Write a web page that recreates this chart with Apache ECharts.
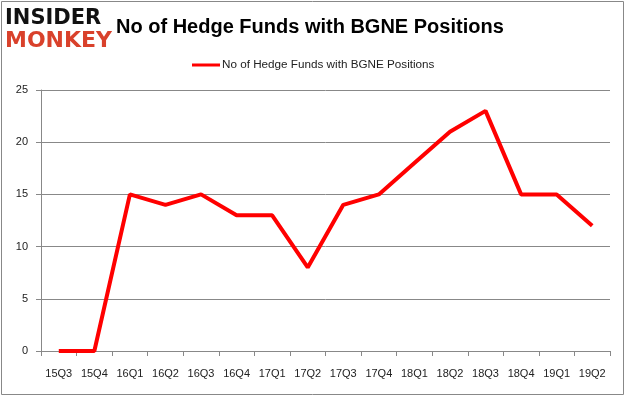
<!DOCTYPE html>
<html><head><meta charset="utf-8">
<script src="https://cdn.jsdelivr.net/npm/echarts@6/dist/echarts.min.js"></script>
<style>html,body{margin:0;padding:0;background:#fff}#c{width:626px;height:397px}</style>
</head><body><div id="c"></div>
<script>
const categories = ['15Q3','15Q4','16Q1','16Q2','16Q3','16Q4','17Q1','17Q2','17Q3','17Q4','18Q1','18Q2','18Q3','18Q4','19Q1','19Q2'];
const values = [0,0,15,14,15,13,13,8,14,15,18,21,23,15,15,12];
const seriesName = 'No of Hedge Funds with BGNE Positions';
const titleText = 'No of Hedge Funds with BGNE Positions';

const chart = echarts.init(document.getElementById('c'));
chart.setOption({
  animation: false,
  backgroundColor: '#fff',
  title: {
    text: titleText, left: 116, top: 17, padding: 0,
    textStyle: {fontFamily: 'Liberation Sans', fontWeight: 'bold', fontSize: 20, color: '#000'}
  },
  legend: {
    data: [seriesName], top: 59, left: 192, padding: 0,
    itemWidth: 28, itemHeight: 3, itemGap: 2,
    icon: 'rect',
    textStyle: {fontFamily: 'Liberation Sans', fontSize: 11.7, color: '#222', padding: [0,0,0,-3]}
  },
  grid: {left: 41, right: 16, top: 90, bottom: 46, containLabel: false},
  xAxis: {
    type: 'category', data: categories, boundaryGap: true,
    axisLine: {lineStyle: {color: '#888'}},
    axisTick: {show: true, alignWithLabel: false, length: 5, lineStyle: {color: '#888'}},
    axisLabel: {margin: 17, fontFamily: 'Liberation Sans', fontSize: 11, color: '#222'}
  },
  yAxis: {
    type: 'value', min: 0, max: 25, interval: 5,
    axisLine: {show: true, lineStyle: {color: '#888'}},
    axisTick: {show: true, length: 5, lineStyle: {color: '#888'}},
    axisLabel: {margin: 13, fontFamily: 'Liberation Sans', fontSize: 11, color: '#222'},
    splitLine: {lineStyle: {color: '#888'}}
  },
  series: [{
    name: seriesName, type: 'line', data: values,
    symbol: 'none', color: '#ff0000',
    lineStyle: {width: 4, color: '#ff0000'}
  }],
  graphic: [
    {type: 'rect', shape: {x: 1.5, y: 1.5, width: 622, height: 393}, style: {fill: 'none', stroke: '#888', lineWidth: 1}, silent: true},
    {type: 'text', left: 5, top: 8, style: {text: 'INSIDER', font: '900 21px "DejaVu Sans"', fill: '#111'}},
    {type: 'text', left: 5, top: 30, style: {text: 'MONKEY', font: '900 22px "DejaVu Sans"', fill: '#d9412b'}}
  ]
});
</script></body></html>
